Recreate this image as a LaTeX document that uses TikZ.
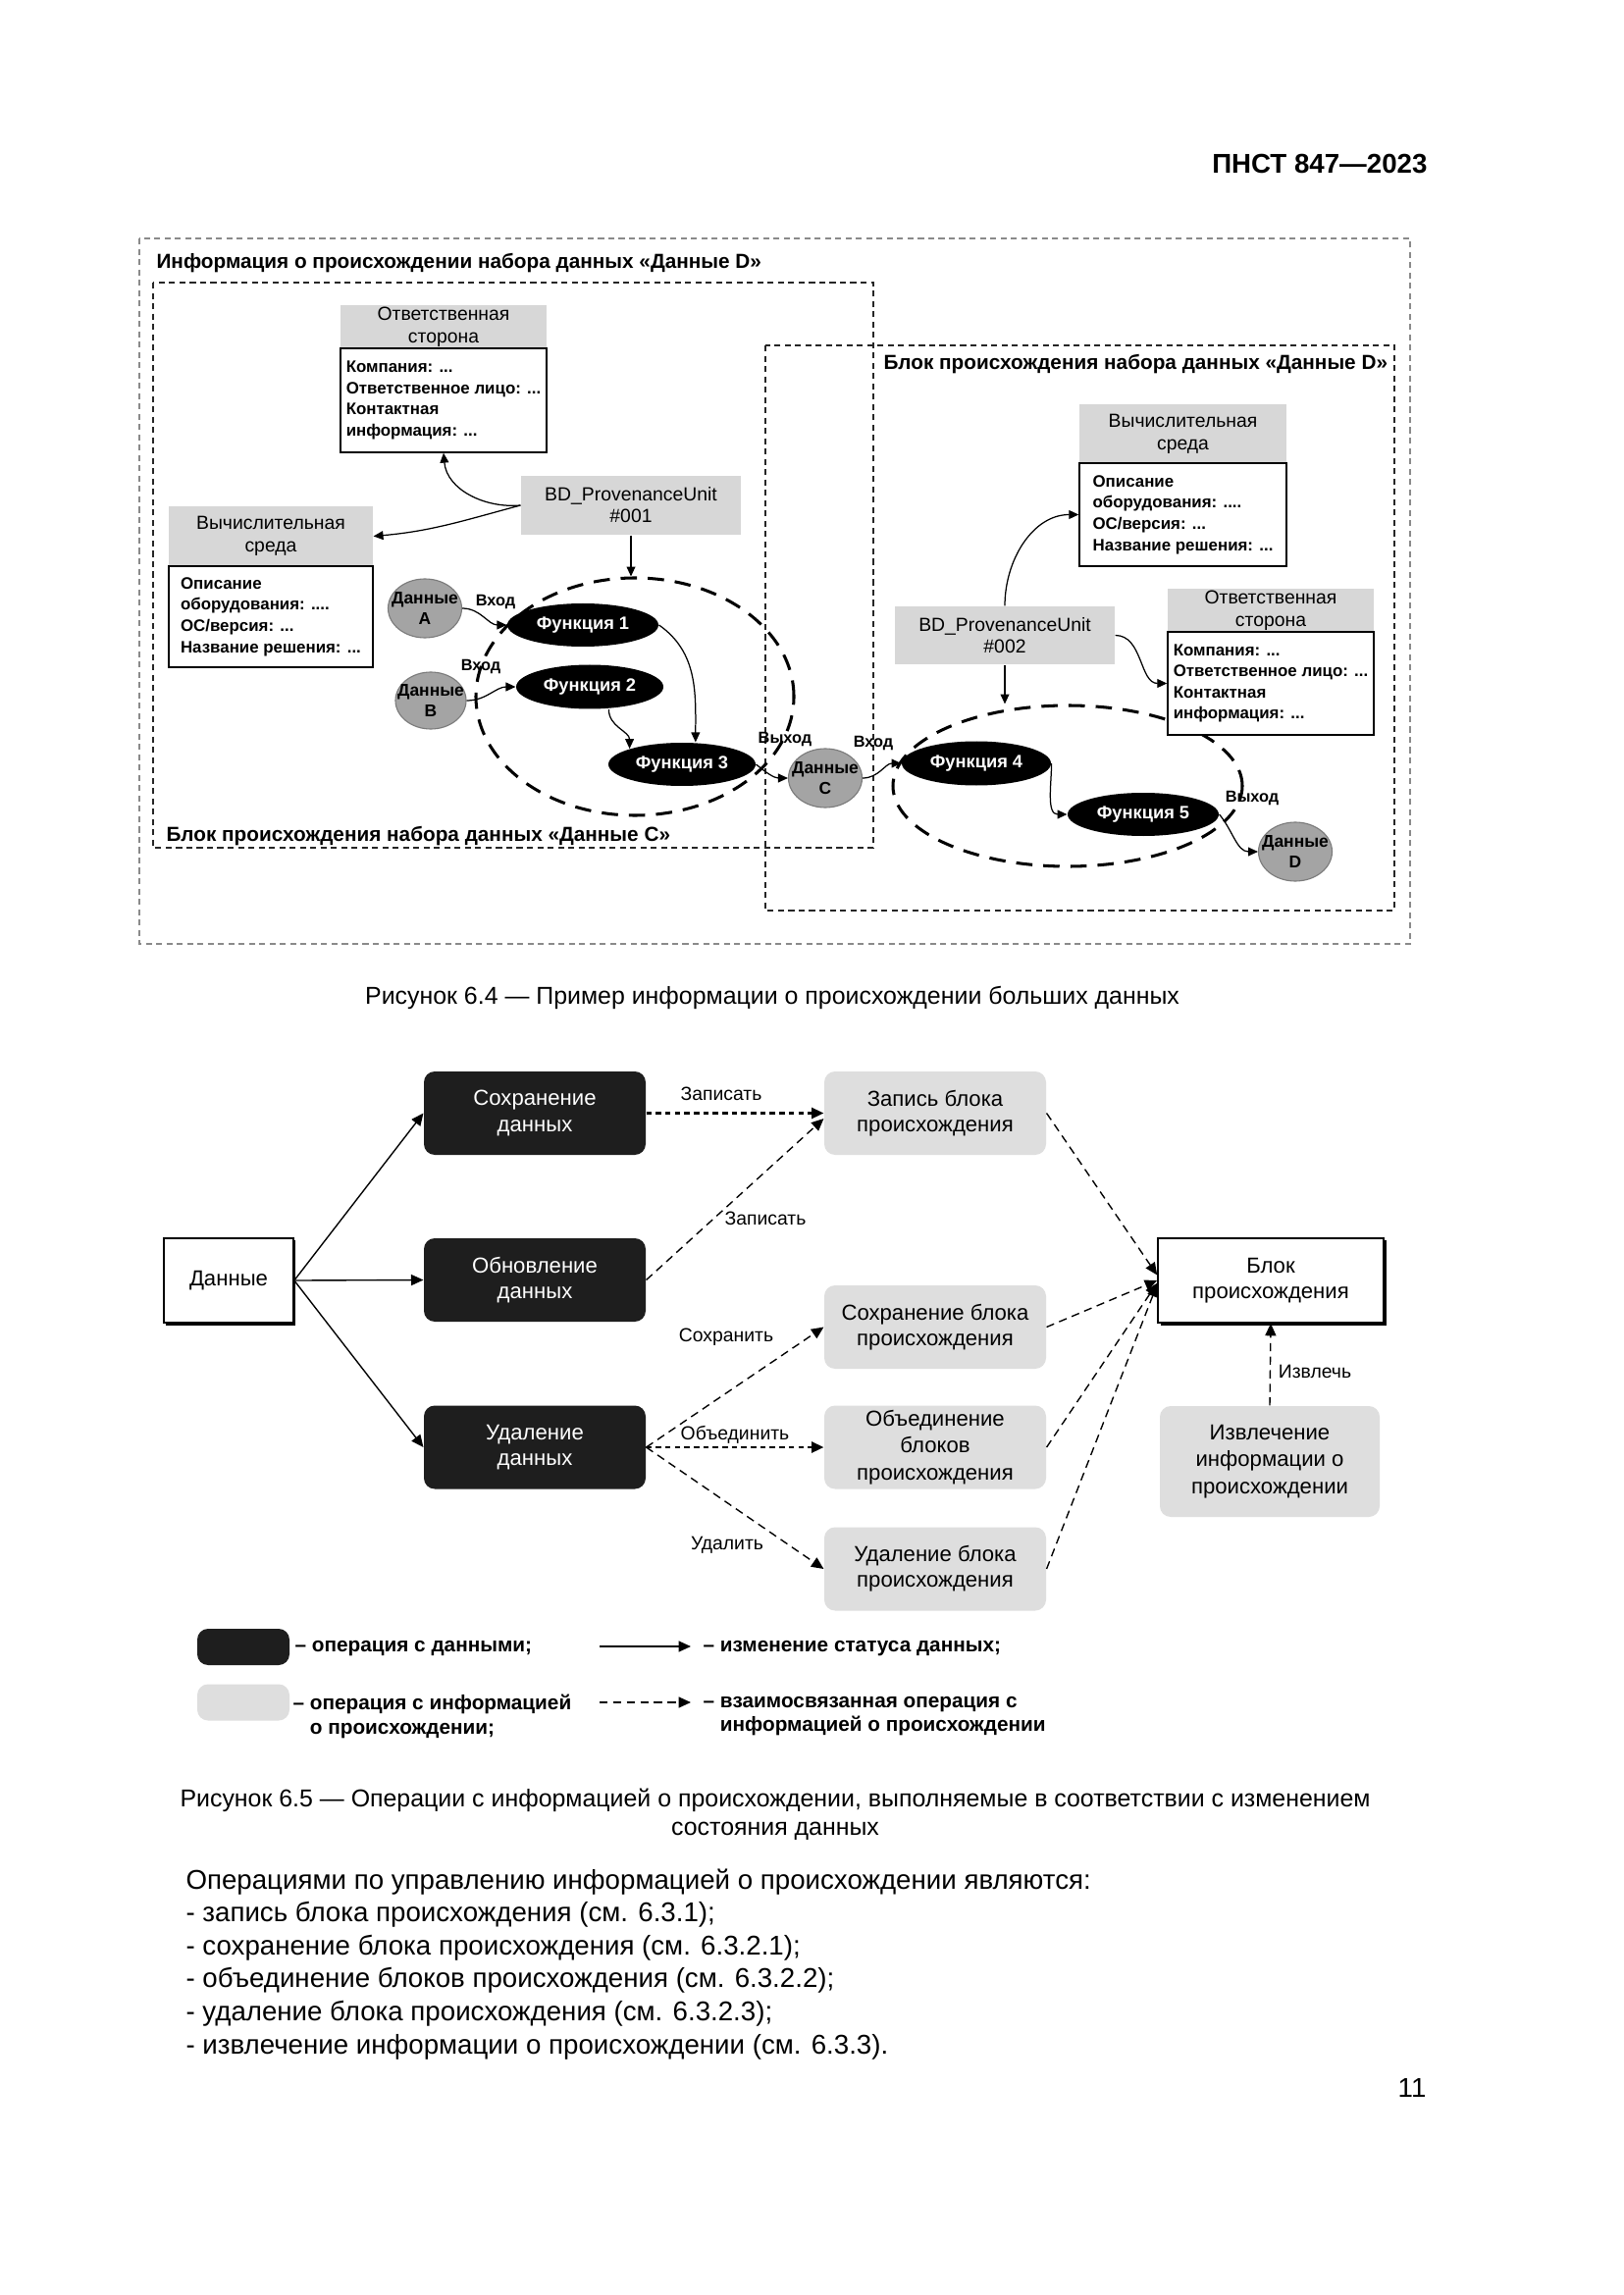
\documentclass[tikz,border=0pt]{standalone}
\usepackage{fontspec}
\setmainfont{Liberation Sans}
\usetikzlibrary{arrows.meta,shapes.geometric,shadows}
\newcommand\pw{0.127mm}
\newcommand\fs[2]{\fontsize{#1}{#2}\selectfont}
\definecolor{hdr}{HTML}{D7D7D7}
\definecolor{datg}{HTML}{A4A4A4}
\definecolor{opblk}{HTML}{1E1E1E}
\definecolor{opgr}{HTML}{DEDEDE}
\definecolor{outerg}{HTML}{8A8A8A}
\begin{document}
\begin{tikzpicture}[x=0.127mm,y=-0.127mm,
  arr/.style={-{Triangle[length=3.6pt,width=3.2pt]},line width=0.45pt},
  hbox/.style={fill=hdr,inner sep=0pt,align=center,font=\fs{7}{8.3}},
  bbox/.style={draw=black,line width=0.5pt,fill=white,inner sep=0pt,align=left,font=\bfseries\fs{6.1}{7.8}},
  bdbox/.style={fill=hdr,inner sep=0pt,align=center,font=\fs{7}{8},minimum width={224*\pw},minimum height={60*\pw}},
  func/.style={ellipse,fill=black,text=white,inner sep=0pt,font=\bfseries\fs{6.6}{8},minimum width={154*\pw},minimum height={44*\pw}},
  datac/.style={ellipse,fill=datg,draw=datg!75!black,line width=0.4pt,inner sep=0pt,minimum width={75*\pw},minimum height={60*\pw}},
  dtxt/.style={align=center,inner sep=0pt,font=\bfseries\fs{6.3}{7.6}},
  lbl/.style={inner sep=0pt,font=\bfseries\fs{5.9}{7}},
  grp/.style={ellipse,draw=black,line width=1.1pt,dash pattern=on 6pt off 4pt,inner sep=0pt},
  ttl/.style={inner sep=0pt,font=\bfseries\fs{7.5}{9}},
  frame/.style={line width=0.5pt,dash pattern=on 2.2pt off 1.6pt},
  sarr/.style={-{Triangle[length=4.5pt,width=4pt]},line width=0.5pt},
  darr/.style={sarr,dash pattern=on 3pt off 2pt},
  darrb/.style={sarr,line width=0.9pt,dash pattern=on 2pt off 1.5pt},
  datop/.style={rounded corners=4pt,fill=opblk,text=white,align=center,inner sep=0pt,font=\fs{8}{9.5},minimum width={226*\pw},minimum height={85*\pw}},
  provop/.style={rounded corners=4pt,fill=opgr,align=center,inner sep=0pt,font=\fs{8}{9.5},minimum width={226*\pw},minimum height={85*\pw}},
  wbox/.style={draw=black,line width=0.6pt,fill=white,drop shadow={shadow xshift=0.9pt,shadow yshift=-0.9pt,fill=black,opacity=1},align=center,inner sep=0pt,font=\fs{8}{9.5}},
  opl/.style={inner sep=0pt,font=\fs{7}{8}},
  leg/.style={inner sep=0pt,align=left,font=\bfseries\fs{7.5}{9}},
  body/.style={inner sep=0pt,anchor=base west,font=\fs{10}{12}},
  capt/.style={inner sep=0pt,anchor=base,font=\fs{9}{11}}
]
\fill[white] (0,0) rectangle (1654,2339);
\useasboundingbox (0,0) rectangle (1654,2339);

\node[anchor=base east,inner sep=0pt,font=\bfseries\fs{10}{12}] (hdr) at (1455,177) {ПНСТ 847—2023};

% ---------- Figure 6.4 ----------
\draw[frame,outerg] (142,243) rectangle (1437,962);
\draw[frame,black!85] (156,288) rectangle (890,864);
\draw[frame,black!85] (780,352) rectangle (1421,928);

\node[ttl,anchor=base west] (tD) at (159,274) {Информация о происхождении набора данных «Данные D»};
\node[ttl,anchor=base west] (tbD) at (900,377) {Блок происхождения набора данных «Данные D»};
\node[ttl,anchor=base west] (tbC) at (169,857) {Блок происхождения набора данных «Данные C»};

\node[grp,minimum width={324*\pw},minimum height={242*\pw}] (E1) at (647,710) {};
\node[grp,minimum width={356*\pw},minimum height={164*\pw}] (E2) at (1088,801) {};

\node[hbox,minimum width={210*\pw},minimum height={44*\pw}] (otv1h) at (452,333) {Ответственная\\сторона};
\node[bbox,minimum width={210*\pw},minimum height={106*\pw}] (otv1b) at (452,408) {Компания: ...\\Ответственное лицо: ...\\Контактная\\информация: ...};
\node[hbox,minimum width={208*\pw},minimum height={61*\pw}] (vych1h) at (276,546.5) {Вычислительная\\среда};
\node[bbox,minimum width={208*\pw},minimum height={103*\pw}] (vych1b) at (276,628.5) {Описание\\оборудования: ....\\ОС/версия: ...\\Название решения: ...};
\node[bdbox] (bd1) at (643,515) {BD\_ProvenanceUnit\\\#001};

\node[hbox,minimum width={211*\pw},minimum height={60*\pw}] (vych2h) at (1205.5,442) {Вычислительная\\среда};
\node[bbox,minimum width={211*\pw},minimum height={105*\pw}] (vych2b) at (1205.5,524.5) {Описание\\оборудования: ....\\ОС/версия: ...\\Название решения: ...};
\node[hbox,minimum width={210*\pw},minimum height={44*\pw}] (otv2h) at (1295,622) {Ответственная\\сторона};
\node[bbox,minimum width={210*\pw},minimum height={105*\pw}] (otv2b) at (1295,696.5) {Компания: ...\\Ответственное лицо: ...\\Контактная\\информация: ...};
\node[bdbox,minimum height={59*\pw}] (bd2) at (1024,647.5) {BD\_ProvenanceUnit\\\#002};

\node[func] (f1) at (594,637) {Функция 1};
\node[func,minimum width={150*\pw},minimum height={45*\pw}] (f2) at (601,700) {Функция 2};
\node[func,minimum width={150*\pw}] (f3) at (695,779) {Функция 3};
\node[func,minimum width={152*\pw},minimum height={45*\pw}] (f4) at (995,778) {Функция 4};
\node[func] (f5) at (1165,830) {Функция 5};

\node[datac,label={[dtxt]center:Данные\\A}] (dA) at (433,620) {};
\node[datac,minimum width={72*\pw},minimum height={58*\pw},label={[dtxt]center:Данные\\B}] (dB) at (439,714) {};
\node[datac,label={[dtxt]center:Данные\\C}] (dC) at (841,793) {};
\node[datac,label={[dtxt]center:Данные\\D}] (dD) at (1320,868) {};

\node[lbl] (inA) at (505,614) {Вход};
\node[lbl] (inB) at (490,680) {Вход};
\node[lbl] (outC) at (800,754) {Выход};
\node[lbl] (inC) at (890,758) {Вход};
\node[lbl] (outD) at (1276,814) {Выход};

\draw[arr] (bd1.west) to[out=185,in=-85] (otv1b.south);
\draw[arr] (bd1.west) to[out=195,in=5] (vych1h.east);
\draw[arr] (bd1.south) -- (bd1.south |- E1.north);
\draw[arr] (dA.east) to[out=0,in=180] (f1.west);
\draw[arr] (dB.east) to[out=0,in=180] (f2.west);
\draw[arr] (f1.east) to[out=-35,in=90] ([xshift=5pt]f3.north);
\draw[arr] ([xshift=7pt]f2.south) to[out=-90,in=90] (f3.north west);
\draw[arr] (f3.east) to[out=-40,in=180] (dC.west);
\draw[arr] (dC.east) to[out=0,in=180] (f4.west);
\draw[arr] (f4.east) to[out=-90,in=180] (f5.west);
\draw[arr] (f5.east) to[out=-50,in=180] (dD.west);
\draw[arr] (bd2.north) to[out=90,in=180] (vych2b.west);
\draw[arr] (bd2.east) to[out=0,in=180] (otv2b.west);
\draw[arr] (bd2.south) -- (bd2.south |- E2.north);

\node[capt] (c64) at (787,1023) {Рисунок 6.4 — Пример информации о происхождении больших данных};

% ---------- Figure 6.5 ----------
\node[wbox,minimum width={132*\pw},minimum height={86*\pw}] (dat) at (233,1305) {Данные};
\node[datop] (s1) at (545,1134.5) {Сохранение\\данных};
\node[datop] (s2) at (545,1304.5) {Обновление\\данных};
\node[datop] (s3) at (545,1475) {Удаление\\данных};
\node[provop] (p1) at (953,1134.5) {Запись блока\\происхождения};
\node[provop] (p2) at (953,1352.5) {Сохранение блока\\происхождения};
\node[provop,font=\fs{8}{10}] (p3) at (953,1475) {Объединение\\блоков\\происхождения};
\node[provop] (p4) at (953,1599) {Удаление блока\\происхождения};
\node[wbox,minimum width={230*\pw},minimum height={86*\pw}] (blk) at (1295,1305) {Блок\\происхождения};
\node[provop,font=\fs{8}{10},minimum width={224*\pw},minimum height={113*\pw}] (izv) at (1294,1489.5) {Извлечение\\информации о\\происхождении};

\draw[sarr] (dat.east) -- (s1.west);
\draw[sarr] (dat.east) -- (s2.west);
\draw[sarr] (dat.east) -- (s3.west);
\draw[darrb] (s1.east) -- (p1.west);
\draw[darr] (s2.east) -- ([yshift=-2pt]p1.west);
\draw[darr] (s3.east) -- (p2.west);
\draw[darrb] (s3.east) -- (p3.west);
\draw[darr] (s3.east) -- (p4.west);
\draw[darr] (p1.east) -- ([yshift=2pt]blk.west);
\draw[darr] (p2.east) -- (blk.west);
\draw[darr] (p3.east) -- ([yshift=-1pt]blk.west);
\draw[darr] (p4.east) -- ([yshift=-1.5pt]blk.west);
\draw[darr] (izv.north) -- (blk.south);

\node[opl] (l1) at (735,1115) {Записать};
\node[opl] (l2) at (780,1242) {Записать};
\node[opl] (l3) at (740,1363) {Сохранить};
\node[opl] (l4) at (749,1462) {Объединить};
\node[opl] (l5) at (741,1575) {Удалить};
\node[opl] (l6) at (1340,1398) {Извлечь};

\node[rounded corners=4pt,fill=opblk,minimum width={94*\pw},minimum height={37*\pw},inner sep=0pt] (lg1) at (248,1678.5) {};
\node[rounded corners=4pt,fill=opgr,minimum width={94*\pw},minimum height={37*\pw},inner sep=0pt] (lg2) at (248,1735) {};
\node[leg,anchor=west] (lt1) at (300,1680) {– операция с данными;};
\node[leg,anchor=west] (lt2) at (298,1749) {– операция с информацией\\\phantom{– }о происхождении;};
\coordinate (la1) at (611,1678);
\coordinate (la2) at (704,1678);
\draw[sarr] (la1) -- (la2);
\coordinate (lb1) at (611,1735);
\coordinate (lb2) at (704,1735);
\draw[darr] (lb1) -- (lb2);
\node[leg,anchor=west] (lt3) at (716,1680) {– изменение статуса данных;};
\node[leg,anchor=west] (lt4) at (716,1749) {– взаимосвязанная операция с\\\phantom{– }информацией о происхождении};

\node[capt] (c65a) at (790,1841) {Рисунок 6.5 — Операции с информацией о происхождении, выполняемые в соответствии с изменением};
\node[capt] (c65b) at (790,1870) {состояния данных};

% ---------- Body text ----------
\node[body] (b1) at (189,1925) {Операциями по управлению информацией о происхождении являются:};
\node[body] (b2) at (189,1958.6) {- запись блока происхождения (см. 6.3.1);};
\node[body] (b3) at (189,1992.2) {- сохранение блока происхождения (см. 6.3.2.1);};
\node[body] (b4) at (189,2025.8) {- объединение блоков происхождения (см. 6.3.2.2);};
\node[body] (b5) at (189,2059.4) {- удаление блока происхождения (см. 6.3.2.3);};
\node[body] (b6) at (189,2093) {- извлечение информации о происхождении (см. 6.3.3).};

\node[anchor=base east,inner sep=0pt,font=\fs{10}{12}] (pg) at (1454,2137) {11};
\end{tikzpicture}
\end{document}
